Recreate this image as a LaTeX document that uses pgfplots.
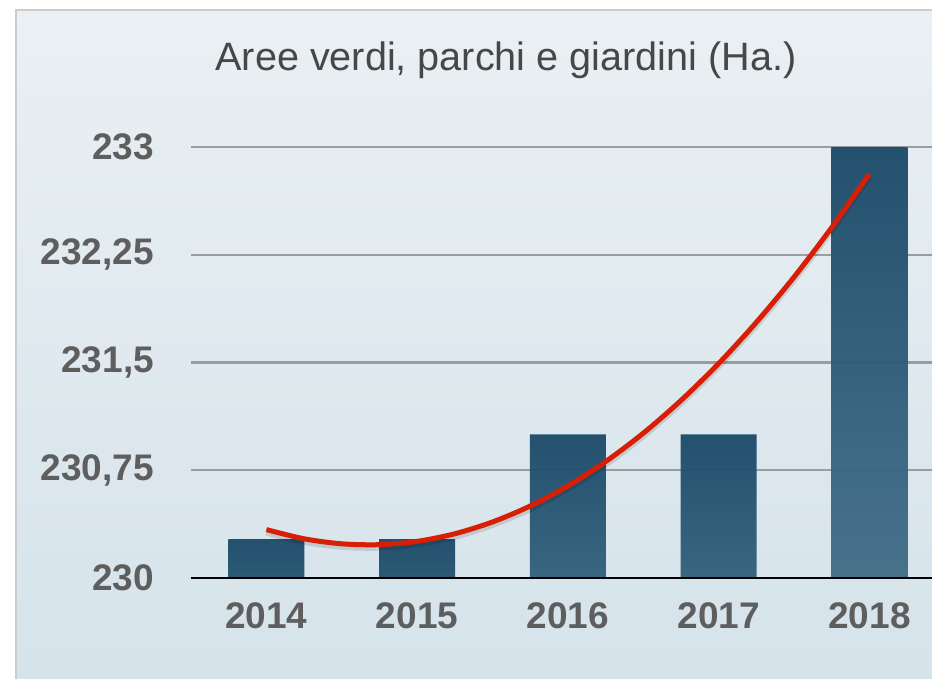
\documentclass[border=0pt]{standalone}
\usepackage{fontspec}
\setmainfont{Liberation Sans}
\usepackage{pgfplots}
\pgfplotsset{compat=1.18}

\definecolor{bgtop}{HTML}{EAF0F4}
\definecolor{bgbot}{HTML}{D5E3EA}
\definecolor{bartop}{HTML}{1C4B69}
\definecolor{barlo}{HTML}{255671}
\definecolor{barmid}{HTML}{33617D}
\definecolor{barhi}{HTML}{436E89}
\definecolor{trend}{HTML}{D81E05}
\definecolor{ticktext}{HTML}{5E5E5E}
\definecolor{gridc}{HTML}{9C9C9C}

\begin{document}
\begin{tikzpicture}
% 1px = 0.5pt, origin at top-left of the image
\path[use as bounding box, fill=white] (0,0) rectangle (466pt,-339.5pt);
\shade[top color=bgtop, bottom color=bgbot] (8pt,-5pt) rectangle (466pt,-339.5pt);
\draw[color=black!20, line width=1pt] (8pt,-339.5pt) -- (8pt,-5pt) -- (466pt,-5pt);

\node[anchor=base, font=\fontsize{19.8}{22}\selectfont, text=black!72] at (253pt,-35.5pt)
  {Aree verdi, parchi e giardini (Ha.)};

\begin{axis}[
    at={(95.5pt,-289pt)}, anchor=south west,
    scale only axis,
    width=370.5pt, height=215.5pt,
    xmin=-0.5, xmax=4.415,
    ymin=230, ymax=233,
    axis line style={draw=none},
    tick style={draw=none},
    xtick={0,1,2,3,4},
    xticklabels={2014,2015,2016,2017,2018},
    ytick={230,230.75,231.5,232.25,233},
    yticklabels={230,{230,75},{231,5},{232,25},233},
    ticklabel style={font=\fontsize{18.5}{20}\selectfont\bfseries, text=ticktext},
    yticklabel style={xshift=-15pt},
    xticklabel style={yshift=-9pt},
    ymajorgrids,
    grid style={color=gridc, line width=1.1pt},
    clip=false,
]
\addplot[ybar, bar width=38pt, bar shift=0pt, draw=none, fill opacity=0.96,
    top color=bartop, bottom color=barlo] coordinates {(0,230.27) (1,230.27)};
\addplot[ybar, bar width=38pt, bar shift=0pt, draw=none, fill opacity=0.96,
    top color=bartop, bottom color=barmid] coordinates {(2,231.0) (3,231.0)};
\addplot[ybar, bar width=38pt, bar shift=0pt, draw=none, fill opacity=0.96,
    top color=bartop, bottom color=barhi] coordinates {(4,233.0)};

% baseline
\addplot[black, line width=0.7pt] coordinates {(-0.5,230) (4.415,230)};

% polynomial trend line
\addplot[trend, line width=2.5pt, smooth,
    preaction={draw, black, opacity=0.12, line width=3pt, transform canvas={yshift=-1.5pt}}]
  coordinates {
    (0,230.337) (0.25,230.273) (0.5,230.238) (0.75,230.232) (1,230.255)
    (1.25,230.308) (1.5,230.390) (1.75,230.501) (2,230.641) (2.25,230.810)
    (2.5,231.008) (2.75,231.236) (3,231.493) (3.25,231.780) (3.5,232.095)
    (3.75,232.440) (4,232.813)
  };
\end{axis}
\end{tikzpicture}
\end{document}
